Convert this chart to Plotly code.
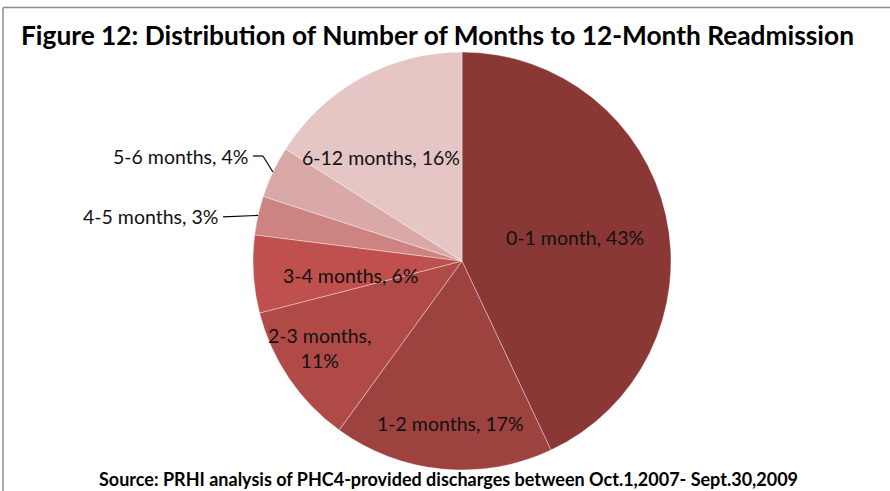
import math
import plotly.graph_objects as go

# ---- data ----
categories = ["0-1 month", "1-2 months", "2-3 months", "3-4 months",
              "4-5 months", "5-6 months", "6-12 months"]
percent_values = [43, 17, 11, 6, 3, 4, 16]
label_texts = ["0-1 month, 43%", "1-2 months, 17%", "2-3 months,<br>11%",
               "3-4 months, 6%", "4-5 months, 3%", "5-6 months, 4%",
               "6-12 months, 16%"]

# ---- style ----
slice_colors = ["#893836", "#9E4240", "#AF4A47", "#C0504D",
                "#CD8381", "#D9A9A8", "#E5C6C5"]
W, H = 890, 491
CX, CY, R = 462, 261, 209          # pie centre / radius in pixels
# label placement: radius fraction + angle shift (deg) for inside labels;
# None = outside label with leader line
label_radius = [0.552, 0.78, 0.80, 0.54, None, None, 0.63]
label_shift = [1.1, -1.5, 2.7, -4.0, 0, 0, -9.1]
FONT = "Lato"
LABEL_SIZE = 19.5

fig = go.Figure(go.Pie(
    labels=categories, values=percent_values, sort=False, direction="clockwise",
    rotation=0, marker=dict(colors=slice_colors,
                            line=dict(color="rgba(255,255,255,0.6)", width=0.6)),
    textinfo="none", hoverinfo="label+percent", showlegend=False,
    domain=dict(x=[(CX - R) / W, (CX + R) / W],
                y=[(H - CY - R) / H, (H - CY + R) / H]),
))

def px_to_paper(x, y):
    return x / W, 1 - y / H

annotations = []
shapes = []
total = sum(percent_values)
cum = 0
for i, v in enumerate(percent_values):
    mid = (cum + v / 2) / total * 2 * math.pi
    cum += v
    if label_radius[i] is not None:
        a = mid + math.radians(label_shift[i])
        f = label_radius[i]
        x, y = CX + f * R * math.sin(a), CY - f * R * math.cos(a)
        px, py = px_to_paper(x, y)
        annotations.append(dict(x=px, y=py, xref="paper", yref="paper",
                                text=label_texts[i], showarrow=False,
                                font=dict(family=FONT, size=LABEL_SIZE, color="#111111"),
                                xanchor="center", yanchor="middle", align="center"))
    else:
        ex, ey = CX + R * math.sin(mid), CY - R * math.cos(mid)   # slice edge
        if categories[i].startswith("5-6"):
            kx, ky = ex - 10, ey - 16               # knee
            tx, ty = kx - 10, ky
        else:
            kx, ky = ex - 35, ey + 1.5
            tx, ty = kx, ky
        pts = [(ex, ey), (kx, ky), (tx, ty)]
        for (x0, y0), (x1, y1) in zip(pts[:-1], pts[1:]):
            if (x0, y0) == (x1, y1):
                continue
            a0 = px_to_paper(x0, y0); a1 = px_to_paper(x1, y1)
            shapes.append(dict(type="line", xref="paper", yref="paper",
                               x0=a0[0], y0=a0[1], x1=a1[0], y1=a1[1],
                               line=dict(color="black", width=1.2)))
        ppx, ppy = px_to_paper(tx - 3, ty)
        annotations.append(dict(x=ppx, y=ppy, xref="paper", yref="paper",
                                text=label_texts[i], showarrow=False,
                                font=dict(family=FONT, size=LABEL_SIZE, color="#111111"),
                                xanchor="right", yanchor="middle"))

# title and source
annotations.append(dict(x=437 / W, y=1 - 35 / H, xref="paper", yref="paper",
                        text="<b>Figure 12: Distribution of Number of Months to 12-Month Readmission</b>",
                        showarrow=False, xanchor="center", yanchor="middle",
                        font=dict(family=FONT, size=26.3, color="black")))
annotations.append(dict(x=448 / W, y=1 - 479 / H, xref="paper", yref="paper",
                        text="<b>Source: PRHI analysis of PHC4-provided discharges between Oct.1,2007- Sept.30,2009</b>",
                        showarrow=False, xanchor="center", yanchor="middle",
                        font=dict(family=FONT, size=18, color="black")))

# chart frame (top and left edges visible)
for (x0, y0, x1, y1) in [(3, 7.5, 900, 7.5), (3, 7.5, 3, 500)]:
    a0 = px_to_paper(x0, y0); a1 = px_to_paper(x1, y1)
    shapes.append(dict(type="line", xref="paper", yref="paper",
                       x0=a0[0], y0=a0[1], x1=a1[0], y1=a1[1],
                       line=dict(color="#8c8c8c", width=1.5)))

fig.update_layout(width=W, height=H, margin=dict(l=0, r=0, t=0, b=0),
                  paper_bgcolor="white", plot_bgcolor="white",
                  annotations=annotations, shapes=shapes)
fig.write_html("out.html", config={"displayModeBar": False},
               post_script="document.body.style.margin='0';"
                           "document.body.style.overflow='hidden';")
